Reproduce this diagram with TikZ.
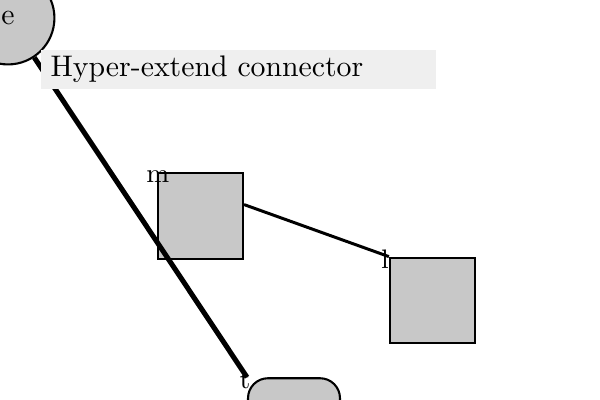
\documentclass[tikz,border=0pt]{standalone}
\usetikzlibrary{calc}
\definecolor{shapegray}{HTML}{C8C8C8}
\definecolor{titlegray}{HTML}{EFEFEF}
\begin{document}
\begin{tikzpicture}[x=0.336pt,y=-0.336pt,
  shapebox/.style={draw=black,fill=shapegray,line width=0.7pt,inner sep=0pt},
  squarebox/.style={shapebox,rectangle,minimum width=28.6pt,minimum height=28.8pt},
  portlabel/.style={inner sep=0pt,font=\small},
  heavylink/.style={line width=1.7pt},
  link/.style={line width=1pt}]
\useasboundingbox (0,0) rectangle (600,400);

% shapes
\node[shapebox,circle,minimum size=31.2pt] (e) at (8,18) {e};
\node[squarebox] (m) at (200.5,216) {};
\node[squarebox] (l) at (432.5,300.5) {};
\node[shapebox,rounded corners=6.7pt,minimum width=30.9pt,minimum height=20pt] (t) at (294,408) {};

% connectors
\draw[heavylink] (e) -- (t.north west);
\draw[link] ($(m.north east)!0.37!(m.south east)$) -- (l.north west);

% caption box
\node[fill=titlegray,anchor=west,inner xsep=3.36pt,inner ysep=0pt,
      text width=126.3pt,minimum height=13.1pt,align=left] (title) at (40,69.5)
      {Hyper-extend connector};

% corner labels
\node[portlabel] (mlab) at ($(m.north west)+(1,4)$) {m};
\node[portlabel] (llab) at ($(l.north west)+(-4,3)$) {l};
\node[portlabel] (tlab) at ($(t.north west)+(-2,3)$) {t};
\end{tikzpicture}
\end{document}
